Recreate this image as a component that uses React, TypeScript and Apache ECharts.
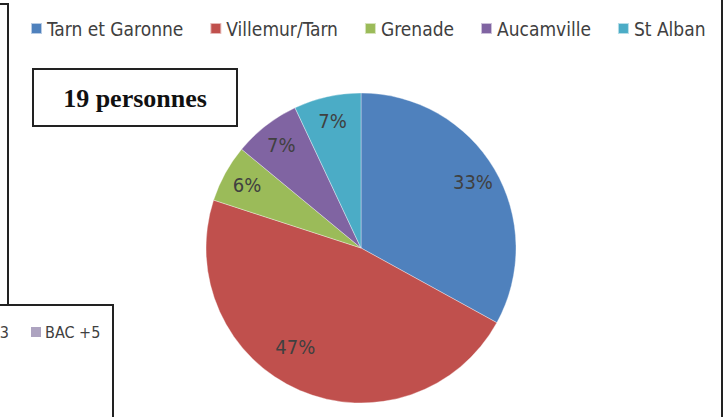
import React, { useEffect, useRef } from "react";
import * as echarts from "echarts";

const categories = ["Tarn et Garonne", "Villemur/Tarn", "Grenade", "Aucamville", "St Alban"];
const values = [33, 47, 6, 7, 7];
const colors = ["#4F81BD", "#C0504D", "#9BBB59", "#8064A2", "#4BACC6"];
const titleText = "19 personnes";
const otherLegend = ["BAC +3", "BAC +5"];

const FONT = "'Liberation Sans Narrow', 'DejaVu Sans Condensed', Lato, sans-serif";

export default function App() {
  const ref = useRef<HTMLDivElement>(null);
  useEffect(() => {
    if (!ref.current) return;
    const chart = echarts.init(ref.current, undefined, { renderer: "svg" });
    const data = categories.map((name, i) => ({ name, value: values[i], itemStyle: { color: colors[i] } }));
    const R = 155;
    const line = { stroke: "#222", lineWidth: 2 };
    chart.setOption({
      animation: false,
      backgroundColor: "#fff",
      legend: {
        left: 25,
        top: 14,
        itemWidth: 11,
        itemHeight: 11,
        itemGap: 26,
        icon: "rect",
        data: categories,
        textStyle: { fontFamily: FONT, fontSize: 19, color: "#404040" },
      },
      series: [
        {
          type: "pie",
          center: [361, 248],
          radius: [0, R],
          startAngle: 90,
          clockwise: true,
          data,
          label: { show: false },
          labelLine: { show: false },
          itemStyle: { borderColor: "rgba(255,255,255,0.6)", borderWidth: 0.6 },
          silent: true,
        },
        {
          type: "pie",
          center: [361, 248],
          radius: [R * 0.64, R],
          startAngle: 90,
          clockwise: true,
          data: data.map((d) => ({ ...d, itemStyle: { color: "rgba(0,0,0,0)" } })),
          label: {
            show: true,
            position: "inside",
            formatter: "{c}%",
            fontFamily: FONT,
            fontSize: 20,
            color: "#404040",
          },
          labelLayout: (params: any) => (params.dataIndex === 1 ? { dx: -14, dy: -20 } : {}),
          labelLine: { show: false },
          silent: true,
          z: 3,
        },
      ],
      graphic: [
        { type: "line", shape: { x1: 0, y1: 4, x2: 9, y2: 4 }, style: line },
        { type: "line", shape: { x1: 8, y1: 4, x2: 8, y2: 305 }, style: line },
        { type: "line", shape: { x1: 0, y1: 305, x2: 114, y2: 305 }, style: line },
        { type: "line", shape: { x1: 113, y1: 305, x2: 113, y2: 417 }, style: line },
        { type: "line", shape: { x1: 722, y1: 0, x2: 722, y2: 417 }, style: line },
        {
          type: "rect",
          shape: { x: 33, y: 69, width: 204, height: 57 },
          style: { fill: "#fff", stroke: "#222", lineWidth: 2 },
        },
        {
          type: "text",
          x: 135,
          y: 98,
          style: {
            text: titleText,
            font: "bold 26px 'Liberation Serif', 'Times New Roman', serif",
            fill: "#111",
            align: "center",
            verticalAlign: "middle",
          },
        },
        {
          type: "text",
          x: 9,
          y: 332,
          style: {
            text: otherLegend[0],
            font: `16px ${FONT}`,
            fill: "#404040",
            align: "right",
            verticalAlign: "middle",
          },
        },
        {
          type: "rect",
          shape: { x: 31, y: 327, width: 10, height: 10 },
          style: { fill: "#ADA3C0" },
        },
        {
          type: "text",
          x: 45,
          y: 332,
          style: {
            text: otherLegend[1],
            font: `16px ${FONT}`,
            fill: "#404040",
            align: "left",
            verticalAlign: "middle",
          },
        },
      ],
    });
    return () => chart.dispose();
  }, []);
  return (
    <div
      ref={ref}
      style={{ position: "absolute", left: 0, top: 0, width: 723, height: 417, background: "#fff" }}
    />
  );
}
